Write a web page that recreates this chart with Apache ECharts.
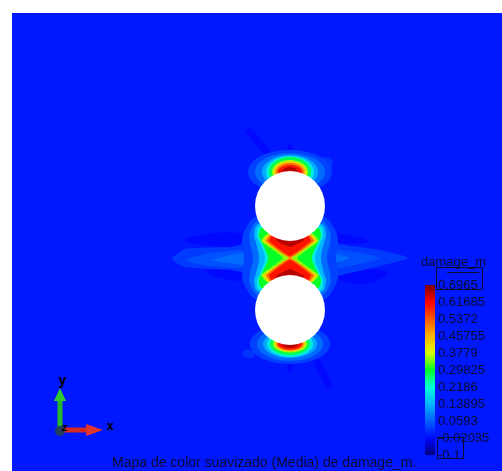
<!DOCTYPE html>
<html>
<head>
<meta charset="utf-8">
<script src="https://cdn.jsdelivr.net/npm/echarts@6/dist/echarts.min.js"></script>
<style>
  html, body { margin: 0; padding: 0; background: #fff; }
  #main { width: 502px; height: 471px; }
</style>
</head>
<body>
<div id="main"></div>
<script>
// legend ticks (bottom -> top) and the colour at each tick
const tickValues = [-0.1, -0.02035, 0.0593, 0.13895, 0.2186, 0.29825, 0.3779, 0.45755, 0.5372, 0.61685, 0.6965];
const spectrum = ['#00007a', '#0008ff', '#0060ff', '#00b4ff', '#00ffd8', '#00ff28', '#d8ff00', '#ffb400', '#ff5a00', '#ff0000', '#7a0000'];

// model coords, origin between the two holes (x right, y up)
const plate = [[-278, -213], [212, -213], [212, 245], [-278, 245]];
const plateValue = -0.006;
const holes = [[0, 52, 35], [0, -52, 35]];

// [damage level, smooth, outline]
const patches = [
  [-0.02, 0.4, [[-105, 18], [-75, 25], [-45, 23], [-42, 13], [-80, 12]]],
  [-0.02, 0.4, [[-85, -12], [-45, -14], [-45, -22], [-70, -20]]],
  [-0.02, 0.4, [[37, 25], [80, 17], [60, 14], [37, 16]]],
  [-0.02, 0.4, [[50, -12], [97, -14], [80, -25], [50, -22]]],
  [-0.02, 0.3, [[-44, 126], [-40, 130], [-20, 107], [-24, 103]]],
  [-0.02, 0.3, [[-2, 113], [2, 113], [2, 103], [-2, 103]]],
  [-0.02, 0.3, [[22, -100], [27, -98], [42, -127], [37, -130]]],
  [-0.02, 0.3, [[-2, -105], [2, -105], [2, -114], [-2, -114]]],
  [0.02, 0.4, [[30, 86], [42, 92], [40, 100], [30, 98]]],
  [0.02, 0.4, [[-45, -92], [-35, -95], [-38, -100], [-47, -98]]]
];

const bands = [
  [0.025, 0.2, [[-118, -1], [-105, 9], [-60, 11], [-40, 14], [-40, -14], [-60, -12], [-105, -9]]],
  [0.045, 0.2, [[-105, -2], [-80, 5], [-45, 7], [-45, -9], [-80, -8]]],
  [0.07, 0.2, [[-78, -2], [-55, 4], [-40, 5], [-40, -7], [-55, -6]]],
  [0.025, 0.2, [[118, 0], [90, 8], [60, 12], [40, 15], [40, -18], [60, -15], [90, -8]]],
  [0.045, 0.2, [[90, 0], [65, 6], [40, 8], [40, -10], [65, -7]]],
  [0.07, 0.2, [[60, 0], [45, 4], [35, 5], [35, -6], [45, -5]]]
];

// ligament between the holes: upper half outlines, mirrored to a closed shape
const ligamentRings = [
  [0.03, 0.4, [[-46, 0], [-48, 15], [-45, 28], [-32, 42], [32, 42], [45, 28], [48, 15], [46, 0]]],
  [0.07, 0.4, [[-37, 0], [-40, 15], [-40, 26], [-30, 38], [30, 38], [40, 26], [40, 15], [37, 0]]],
  [0.14, 0.4, [[-31, 0], [-34, 15], [-36, 24], [-31, 34], [31, 34], [36, 24], [34, 15], [31, 0]]],
  [0.2, 0.4, [[-25, 0], [-30, 15], [-33, 22], [-30, 32], [30, 32], [33, 22], [30, 15], [25, 0]]],
  [0.3, 0.3, [[-22, 0], [-28, 15], [-31, 22], [-28, 30], [28, 30], [31, 22], [28, 15], [22, 0]]],
  [0.35, 0.1, [[-7, 0], [-29, 17], [-23, 24], [23, 24], [29, 17], [7, 0]]],
  [0.42, 0.1, [[-2, 0], [-27, 17], [-21, 24], [21, 24], [27, 17], [2, 0]]]
];
// wedges under the upper hole, repeated mirrored above the lower hole
const ligamentWedges = [
  [0.52, 0.1, [[-24, 17], [-19, 24], [19, 24], [24, 17], [0, 0]]],
  [0.6, 0.1, [[-21, 17], [-17, 24], [17, 24], [21, 17], [0, 2]]],
  [0.66, 0.15, [[-14, 18], [-12, 22], [12, 22], [14, 18], [0, 11]]]
];

// caps at the outer edge of each hole: [level, cx, cy, rx, ry]
const caps = [
  [0.03, 0, 86, 42, 22], [0.07, 0, 86, 35, 19], [0.13, 0, 86, 28, 17], [0.2, 0, 86, 24, 16],
  [0.28, 0, 86, 21, 15], [0.36, 0, 86, 18, 12], [0.44, 0, 86, 16, 10.5], [0.52, 0, 86, 14, 9],
  [0.6, 0, 86, 12, 7], [0.66, 0, 86, 8, 5],
  [0.03, 0, -86, 40, 20], [0.07, 0, -86, 33, 17], [0.13, 0, -86, 27, 14], [0.2, 0, -86, 23, 13],
  [0.28, 0, -86, 20, 11], [0.36, 0, -86, 17, 8.5], [0.44, 0, -86, 15, 7.5], [0.52, 0, -86, 13.5, 6.5],
  [0.6, 0, -86, 12, 5.5], [0.66, 0, -86, 8, 4]
];

function ellipsePts(cx, cy, rx, ry) {
  const pts = [];
  for (let i = 0; i < 48; i++) {
    const a = (i / 48) * Math.PI * 2;
    pts.push([cx + rx * Math.cos(a), cy + ry * Math.sin(a)]);
  }
  return pts;
}
const flip = pts => pts.map(p => [p[0], -p[1]]);
const closeSym = half => half.concat(flip(half.slice(1, -1).reverse()));

const zones = [[plateValue, 0, plate]]
  .concat(patches, bands)
  .concat(ligamentRings.map(r => [r[0], r[1], closeSym(r[2])]))
  .concat(...ligamentWedges.map(w => [w, [w[0], w[1], flip(w[2])]]))
  .concat(caps.map(c => [c[0], 0, ellipsePts(c[1], c[2], c[3], c[4])]));

const myChart = echarts.init(document.getElementById('main'));
const txt = '#0b0b2e';

const option = {
  animation: false,
  backgroundColor: '#ffffff',
  title: {
    text: 'Mapa de color suavizado (Media) de damage_m.',
    left: 112,
    top: 456,
    padding: 0,
    textStyle: { fontFamily: 'Liberation Sans', fontSize: 14, fontWeight: 'normal', color: txt }
  },
  grid: [
    { left: 12, top: 13, right: 0, bottom: 0 },
    { left: 425, top: 285, width: 10, height: 170 }
  ],
  xAxis: [
    { gridIndex: 0, type: 'value', min: -278, max: 212, show: false },
    { gridIndex: 1, type: 'value', min: 0, max: 1, show: false }
  ],
  yAxis: [
    { gridIndex: 0, type: 'value', min: -213, max: 245, show: false },
    {
      gridIndex: 1, type: 'value', min: 0, max: 10, interval: 1, position: 'right', z: 20,
      axisLine: { show: false }, axisTick: { show: false }, splitLine: { show: false },
      axisLabel: {
        margin: 3,
        fontFamily: 'Liberation Sans',
        fontSize: 13,
        color: txt,
        formatter: v => String(tickValues[v])
      }
    }
  ],
  visualMap: {
    show: false,
    type: 'continuous',
    seriesIndex: 0,
    dimension: 0,
    min: tickValues[0],
    max: tickValues[tickValues.length - 1],
    inRange: { color: spectrum }
  },
  series: [
    {
      type: 'custom',
      xAxisIndex: 0,
      yAxisIndex: 0,
      clip: true,
      silent: true,
      data: zones.map((z, i) => [z[0], i]),
      renderItem: (params, api) => {
        const z = zones[params.dataIndex];
        return {
          type: 'polygon',
          shape: { points: z[2].map(p => api.coord(p)), smooth: z[1] },
          style: { fill: api.visual('color') }
        };
      }
    },
    {
      type: 'custom',
      xAxisIndex: 0,
      yAxisIndex: 0,
      clip: true,
      silent: true,
      data: holes,
      renderItem: (params, api) => {
        const c = api.coord([api.value(0), api.value(1)]);
        const r = api.size([api.value(2), 0])[0];
        return { type: 'circle', shape: { cx: c[0], cy: c[1], r: r }, style: { fill: '#ffffff' } };
      }
    },
    {
      type: 'custom',
      xAxisIndex: 1,
      yAxisIndex: 1,
      silent: true,
      z: 5,
      data: [[0, 0]],
      renderItem: (params, api) => {
        const top = api.coord([0, 10]);
        const bot = api.coord([1, 0]);
        const stops = spectrum.map((c, i) => ({ offset: 1 - i / (spectrum.length - 1), color: c }));
        return {
          type: 'rect',
          shape: { x: top[0], y: top[1], width: bot[0] - top[0], height: bot[1] - top[1] },
          style: { fill: new echarts.graphic.LinearGradient(0, 0, 0, 1, stops) }
        };
      }
    }
  ],
  graphic: {
    elements: [
      { type: 'text', z: 50, left: 421, top: 256, style: { text: 'damage_m', font: '13px "Liberation Sans"', fill: txt } },
      { type: 'rect', z: 50, shape: { x: 436.5, y: 267.5, width: 46, height: 22 }, style: { fill: 'none', stroke: txt, lineWidth: 1 } },
      { type: 'line', z: 50, shape: { x1: 447, y1: 272.5, x2: 479, y2: 272.5 }, style: { stroke: txt, lineWidth: 1 } },
      { type: 'rect', z: 50, shape: { x: 437.5, y: 437.5, width: 26, height: 21 }, style: { fill: 'none', stroke: txt, lineWidth: 1 } },
      // axis triad
      { type: 'rect', z: 50, shape: { x: 62, y: 427.5, width: 26, height: 5 }, style: { fill: '#d42a22' } },
      { type: 'polygon', z: 50, shape: { points: [[86, 424], [86, 436], [103, 430]] }, style: { fill: '#e0352a' } },
      { type: 'rect', z: 50, shape: { x: 57.5, y: 398, width: 5, height: 32 }, style: { fill: '#27b52a' } },
      { type: 'polygon', z: 50, shape: { points: [[54, 401], [66, 401], [60, 388]] }, style: { fill: '#30c832' } },
      { type: 'circle', z: 50, shape: { cx: 60, cy: 431, r: 5 }, style: { fill: '#243f5c' } },
      { type: 'text', z: 50, left: 58, top: 374, style: { text: 'y', font: 'bold 14px "DejaVu Sans Mono"', fill: '#000' } },
      { type: 'text', z: 50, left: 106, top: 420, style: { text: 'x', font: 'bold 13px "DejaVu Sans Mono"', fill: '#000' } },
      { type: 'text', z: 50, left: 61, top: 423, style: { text: 'z', font: 'bold 11px "DejaVu Sans Mono"', fill: '#000' } }
    ]
  }
};

myChart.setOption(option);
</script>
</body>
</html>
